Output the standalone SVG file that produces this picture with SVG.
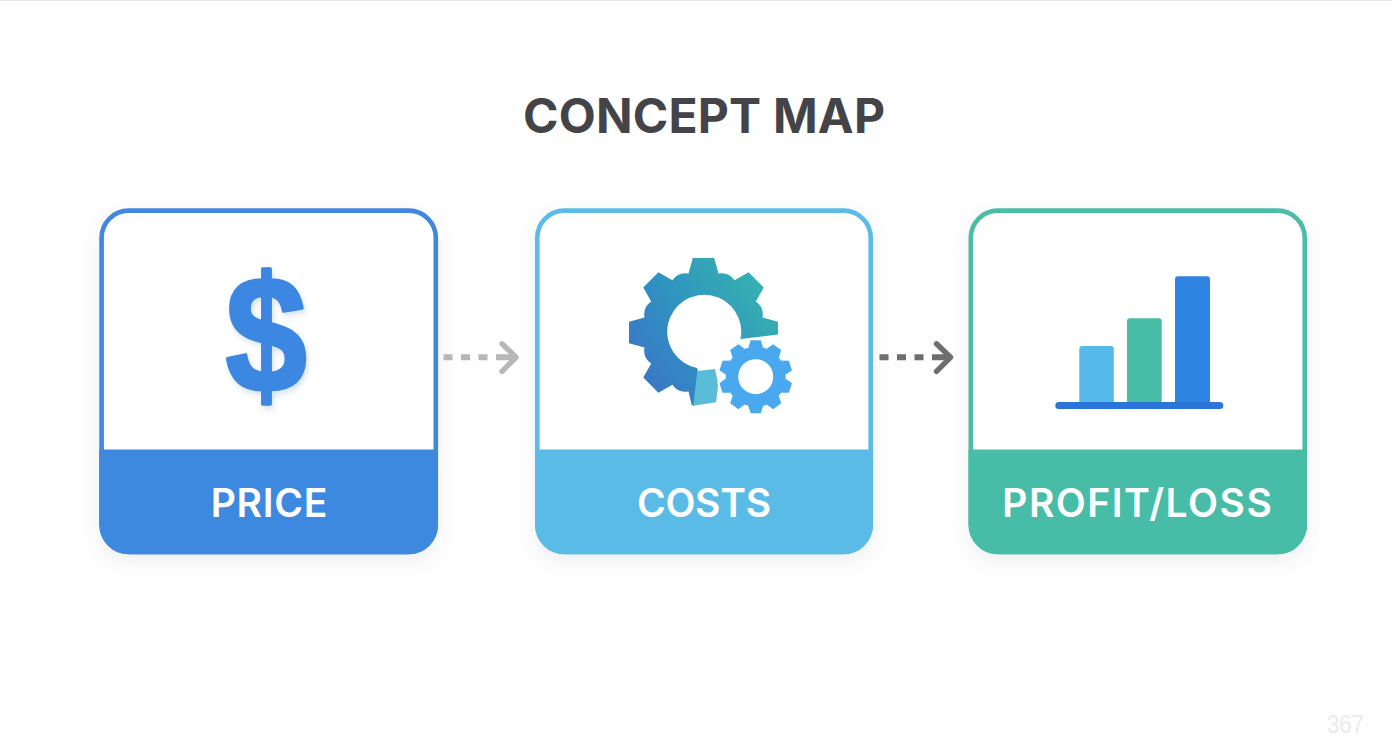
<svg xmlns="http://www.w3.org/2000/svg" xmlns:xlink="http://www.w3.org/1999/xlink" width="1392" height="752" viewBox="0 0 1392 752">
<style>
.card{fill:#fff;stroke-width:4.6}
.label{font-family:"Inter","Liberation Sans",sans-serif;font-weight:600;font-size:39px;fill:#fff;text-anchor:middle}
.title{font-family:"Inter","Liberation Sans",sans-serif;font-weight:700;font-size:48px;fill:#434348;text-anchor:middle}
.dash{fill:none;stroke-width:6;stroke-dasharray:9 8.5 9 8.5 9 8.5 22}
.head{fill:none;stroke-width:5.4;stroke-linecap:round;stroke-linejoin:round}
</style>
<defs>
<filter id="shadow" x="-15%" y="-15%" width="130%" height="135%"><feDropShadow dx="0" dy="7" stdDeviation="8" flood-color="#5a6a80" flood-opacity="0.10"/></filter>
<filter id="iconShadow" x="-20%" y="-20%" width="140%" height="140%"><feDropShadow dx="2" dy="3" stdDeviation="3" flood-color="#3a6ea5" flood-opacity="0.22"/></filter>
<linearGradient id="gearFill" gradientUnits="userSpaceOnUse" x1="640" y1="395" x2="780" y2="300"><stop offset="0" stop-color="#3c72c8"/><stop offset="0.45" stop-color="#2f92c0"/><stop offset="1" stop-color="#36b3b0"/></linearGradient>
<marker id="headLight" markerUnits="userSpaceOnUse" markerWidth="30" markerHeight="40" refX="24" refY="20" orient="auto"><path class="head" stroke="#b7b7b7" d="M10,6.5 L24,20 L10,34"/></marker>
<marker id="headDark" markerUnits="userSpaceOnUse" markerWidth="30" markerHeight="40" refX="24" refY="20" orient="auto"><path class="head" stroke="#6d6d72" d="M10,6.5 L24,20 L10,34"/></marker>
<path id="tooth" d="M-7.5,-29 L-5,-36.5 H5 L7.5,-29Z"/>
<g id="smallGear">
<circle cx="0" cy="0" r="30"/>
<use xlink:href="#tooth"/><use xlink:href="#tooth" transform="rotate(36)"/><use xlink:href="#tooth" transform="rotate(72)"/><use xlink:href="#tooth" transform="rotate(108)"/><use xlink:href="#tooth" transform="rotate(144)"/><use xlink:href="#tooth" transform="rotate(180)"/><use xlink:href="#tooth" transform="rotate(216)"/><use xlink:href="#tooth" transform="rotate(252)"/><use xlink:href="#tooth" transform="rotate(288)"/><use xlink:href="#tooth" transform="rotate(324)"/>
</g>
</defs>
<rect width="1392" height="752" fill="#fefefe"/>
<rect width="1392" height="1" fill="#e6e6e6"/>
<text id="title" class="title" x="704" y="133" textLength="362" lengthAdjust="spacing">CONCEPT MAP</text>

<g id="node-price">
<rect class="card" filter="url(#shadow)" x="101.6" y="210.6" width="334.2" height="341.4" rx="27" stroke="#3f88df"/>
<path d="M99.3,449.5 H438 V524 A30,30 0 0 1 408,554.3 H129.3 A30,30 0 0 1 99.3,524Z" fill="#3d89e0"/>
<text transform="translate(266,391.5) scale(0.88,1)" x="0" y="0" font-family="Liberation Sans, sans-serif" font-weight="700" font-size="166" text-anchor="middle" fill="#3b87e2" stroke="#3b87e2" stroke-width="3.5" stroke-linejoin="round" filter="url(#iconShadow)">$</text>
<text class="label" x="269" y="516.5" textLength="116.5" lengthAdjust="spacing">PRICE</text>
</g>

<g id="node-costs">
<rect class="card" filter="url(#shadow)" x="537.3" y="210.6" width="333.4" height="341.4" rx="27" stroke="#5bbbe8"/>
<path d="M535,449.5 H873 V524 A30,30 0 0 1 843,554.3 H565 A30,30 0 0 1 535,524Z" fill="#5abbe7"/>
<path fill="url(#gearFill)" d="M691.7,405 L688.5,391.5 A16,16 0 0 1 672.4,384.8 L658.4,392.75 L643.25,377.6 L651.2,363.6 A16,16 0 0 1 644.5,347.5 L629,343.2 V321.8 L644.5,317.5 A16,16 0 0 1 651.2,301.4 L643.25,287.4 L658.4,272.25 L672.4,280.2 A16,16 0 0 1 688.5,273.5 L692.8,258 H714.2 L718.5,273.5 A16,16 0 0 1 734.6,280.2 L748.6,272.25 L763.75,287.4 L755.8,301.4 A16,16 0 0 1 762.5,317.5 L778,321.8 V334.5 L740.5,339 A37,37 0 1 0 697,368 L698,371 L694,406Z"/>
<path fill="#5bbcd8" d="M697.3,371 L715,369 L718.3,384.3 L716,402.3 L693.3,405.7Z"/>
<use xlink:href="#smallGear" x="755.7" y="376.7" fill="#fff" stroke="#fff" stroke-width="4"/>
<use xlink:href="#smallGear" x="755.7" y="376.7" fill="#4aa9ee"/>
<circle cx="755.7" cy="376.7" r="17.5" fill="#fff"/>
<text class="label" x="704" y="516.5" textLength="134" lengthAdjust="spacing">COSTS</text>
</g>

<g id="node-profit-loss">
<rect class="card" filter="url(#shadow)" x="970.8" y="210.6" width="333.9" height="341.4" rx="27" stroke="#4cbca6"/>
<path d="M968.5,449.5 H1307 V524 A30,30 0 0 1 1277,554.3 H998.5 A30,30 0 0 1 968.5,524Z" fill="#47bda7"/>
<rect x="1079.3" y="346" width="34.5" height="60" rx="3" fill="#55b9e9"/>
<rect x="1127" y="318.3" width="34.7" height="88" rx="3" fill="#47bda7"/>
<rect x="1175" y="276.3" width="35" height="130" rx="3" fill="#2f83e1"/>
<rect x="1055.3" y="402" width="168" height="7" rx="3.5" fill="#2b74d8"/>
<text class="label" x="1137" y="516.5" textLength="269.5" lengthAdjust="spacing">PROFIT/LOSS</text>
</g>

<g id="connectors">
<line class="dash" x1="443.5" y1="357.3" x2="516" y2="357.3" stroke="#b7b7b7" marker-end="url(#headLight)"/>
<line class="dash" x1="879.5" y1="357.3" x2="950.5" y2="357.3" stroke="#6d6d72" marker-end="url(#headDark)"/>
</g>

<text id="watermark" x="1327" y="733" font-family="Liberation Sans, sans-serif" font-size="25" fill="#ebebeb" textLength="37" lengthAdjust="spacingAndGlyphs">367</text>
</svg>
